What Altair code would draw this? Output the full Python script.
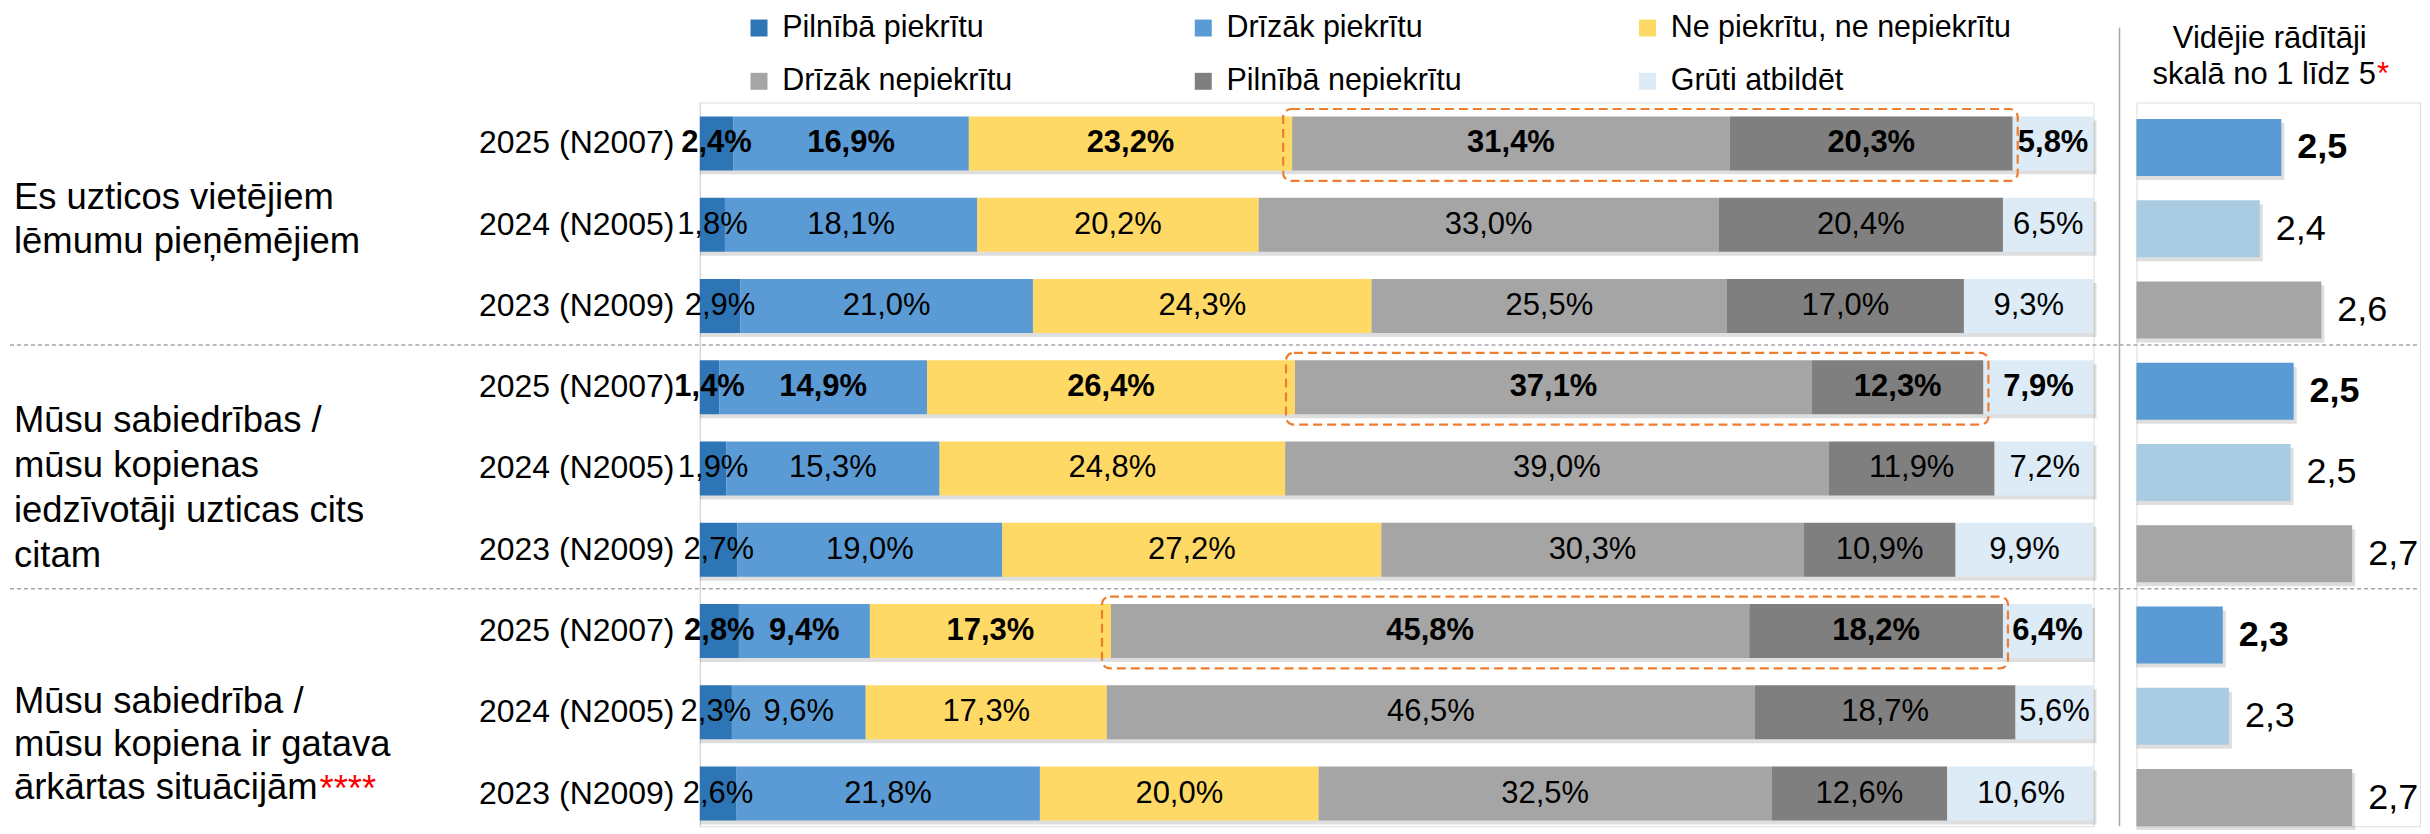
import altair as alt
import pandas as pd

FONT = "Liberation Sans"

# ---------------- data ----------------
categories = ["Pilnībā piekrītu", "Drīzāk piekrītu", "Ne piekrītu, ne nepiekrītu",
              "Drīzāk nepiekrītu", "Pilnībā nepiekrītu", "Grūti atbildēt"]
cat_colors = ["#2E75B6", "#5B9BD5", "#FFD966", "#A5A5A5", "#7F7F7F", "#DDEBF7"]

row_labels = ["2025 (N2007)", "2024 (N2005)", "2023 (N2009)"]
group_lines = [
    ["Es uzticos vietējiem", "lēmumu pieņēmējiem"],
    ["Mūsu sabiedrības /", "mūsu kopienas", "iedzīvotāji uzticas cits", "citam"],
    ["Mūsu sabiedrība /", "mūsu kopiena ir gatava", "ārkārtas situācijām"],
]
group_note = "****"

pilniba_piekritu = [2.4, 1.8, 2.9, 1.4, 1.9, 2.7, 2.8, 2.3, 2.6]
drizak_piekritu = [16.9, 18.1, 21.0, 14.9, 15.3, 19.0, 9.4, 9.6, 21.8]
ne_piekritu_ne_nepiekritu = [23.2, 20.2, 24.3, 26.4, 24.8, 27.2, 17.3, 17.3, 20.0]
drizak_nepiekritu = [31.4, 33.0, 25.5, 37.1, 39.0, 30.3, 45.8, 46.5, 32.5]
pilniba_nepiekritu = [20.3, 20.4, 17.0, 12.3, 11.9, 10.9, 18.2, 18.7, 12.6]
gruti_atbildet = [5.8, 6.5, 9.3, 7.9, 7.2, 9.9, 6.4, 5.6, 10.6]

mean_values = [2.47, 2.40, 2.60, 2.51, 2.50, 2.70, 2.28, 2.30, 2.70]
mean_labels = ["2,5", "2,4", "2,6", "2,5", "2,5", "2,7", "2,3", "2,3", "2,7"]
years = ["2025", "2024", "2023"]
year_colors = ["#5B9BD5", "#A9CCE3", "#A5A5A5"]

mean_title_1 = "Vidējie rādītāji"
mean_title_2 = "skalā no 1 līdz 5"
mean_title_star = "*"

# ---------------- tables ----------------
series = [pilniba_piekritu, drizak_piekritu, ne_piekritu_ne_nepiekritu,
          drizak_nepiekritu, pilniba_nepiekritu, gruti_atbildet]
n_rows = len(pilniba_piekritu)
keys = [f"{i}|{row_labels[i % 3]}" for i in range(n_rows)]

seg_rows, shadow_rows, box_rows = [], [], []
for i in range(n_rows):
    cum = 0.0
    for j, cat in enumerate(categories):
        v = series[j][i]
        seg_rows.append(dict(key=keys[i], cat=cat, start=cum, end=cum + v, mid=cum + v / 2,
                             label=f"{v:.1f}".replace(".", ",") + "%", bold=(i % 3 == 0)))
        cum += v
    shadow_rows.append(dict(key=keys[i], start=0.0, end=min(cum, 100.0)))
    if i % 3 == 0:
        s = series[0][i] + series[1][i] + series[2][i]
        box_rows.append(dict(key=keys[i], start=s, end=s + series[3][i] + series[4][i]))

seg_df = pd.DataFrame(seg_rows)
shadow_df = pd.DataFrame(shadow_rows)
box_df = pd.DataFrame(box_rows)
sep_df = pd.DataFrame(dict(key=[keys[2], keys[5]]))
mean_df = pd.DataFrame(dict(key=keys, year=[k.split("|")[1][:4] for k in keys],
                            mean=mean_values, label=mean_labels,
                            bold=[i % 3 == 0 for i in range(n_rows)]))

# ---------------- scales ----------------
W_MAIN, W_MEAN, H = 1396, 284, 725
yscale = alt.Scale(type="band", domain=keys, paddingInner=0.337, paddingOuter=0.122, align=0.705)
xscale = alt.Scale(domain=[0, 100], nice=False, zero=True, clamp=True)
mscale = alt.Scale(domain=[2, 2.92], nice=False, zero=False)
yaxis = alt.Axis(labelExpr="split(datum.value, '|')[1]", labelFontSize=32, labelFont=FONT,
                 labelColor="#000000", ticks=False, labelPadding=26, domainColor="#D9D9D9",
                 domainWidth=1.5, labelLimit=500, grid=False, title=None)
Ym = lambda **kw: alt.Y("key:N", scale=yscale, title=None, axis=yaxis, **kw)
Y = lambda **kw: alt.Y("key:N", scale=yscale, title=None, axis=None, **kw)
one = alt.InlineData(values=[{"a": 1}])

# ---------------- main panel ----------------
shadow = alt.Chart(shadow_df).mark_bar(color="#000000", opacity=0.13, yOffset=4, x2Offset=3).encode(
    x=alt.X("start:Q", scale=xscale, axis=None), x2="end:Q", y=Ym())

bars = alt.Chart(seg_df).mark_bar().encode(
    x=alt.X("start:Q", scale=xscale, axis=None),
    x2="end:Q",
    y=Ym(),
    color=alt.Color("cat:N", scale=alt.Scale(domain=categories, range=cat_colors),
                    legend=alt.Legend(title=None, orient="none", legendX=41, legendY=-93,
                                      direction="horizontal", columns=3, symbolType="square",
                                      symbolSize=289, symbolStrokeWidth=0, symbolOpacity=1,
                                      labelFontSize=30.5, labelFont=FONT, labelColor="#000000",
                                      labelOffset=8, columnPadding=65, rowPadding=22.5,
                                      padding=3, labelLimit=600, gridAlign="all")),
)

lab_reg = alt.Chart(seg_df).transform_filter("!datum.bold").mark_text(
    fontSize=31, font=FONT, color="#000000").encode(
    x=alt.X("mid:Q", scale=xscale, axis=None), y=Ym(), text="label:N")
lab_bold = alt.Chart(seg_df).transform_filter("datum.bold").mark_text(
    fontSize=31, font=FONT, color="#000000", fontWeight="bold").encode(
    x=alt.X("mid:Q", scale=xscale, axis=None), y=Ym(), text="label:N")

boxes = alt.Chart(box_df).mark_bar(size=72, yOffset=1.5, xOffset=-9, x2Offset=5, fill="transparent",
                                   stroke="#ED7D31", strokeWidth=2.2, strokeDash=[9, 5],
                                   cornerRadius=8).encode(
    x=alt.X("start:Q", scale=xscale, axis=None), x2="end:Q", y=Ym())

seps_main = alt.Chart(sep_df).mark_rule(color="#A6A6A6", strokeWidth=1.5, strokeDash=[4, 3],
                                        yOffset=12).encode(
    y=Ym(bandPosition=1), x=alt.value(-691), x2=alt.value(W_MAIN + 25))

group_layers = []
group_dy = [-26.5, -47.5, -10]
group_lh = [44, 45, 43]
for g, lines in enumerate(group_lines):
    group_layers.append(
        alt.Chart(alt.InlineData(values=[{"key": keys[g * 3 + 1], "lines": lines}])).mark_text(
            align="left", baseline="middle", fontSize=36.5, font=FONT, color="#000000",
            lineHeight=group_lh[g], dy=group_dy[g]).encode(
            x=alt.value(-687), y=Ym(), text="lines:N"))

stars = alt.Chart(alt.InlineData(values=[{"key": keys[8], "t": group_note}])).mark_text(
    align="left", baseline="middle", fontSize=36.5, font=FONT, color="#FF0000", dy=-4).encode(
    x=alt.value(-381), y=Ym(), text="t:N")

main = alt.layer(shadow, bars, lab_reg, lab_bold, boxes, seps_main, *group_layers, stars).properties(
    width=W_MAIN, height=H)

# ---------------- mean panel ----------------
m_shadow = alt.Chart(mean_df).mark_bar(size=57, yOffset=8, xOffset=3, color="#000000", opacity=0.13).encode(
    x=alt.X("mean:Q", scale=mscale, axis=None), x2=alt.datum(2), y=Y())
m_bars = alt.Chart(mean_df).mark_bar(size=57, yOffset=4).encode(
    x=alt.X("mean:Q", scale=mscale, axis=None), x2=alt.datum(2), y=Y(),
    color=alt.Color("year:N", scale=alt.Scale(domain=years, range=year_colors), legend=None))
m_lab_reg = alt.Chart(mean_df).transform_filter("!datum.bold").mark_text(
    align="left", baseline="middle", dx=16, dy=4, fontSize=36, font=FONT, color="#000000").encode(
    x=alt.X("mean:Q", scale=mscale, axis=None), y=Y(), text="label:N")
m_lab_bold = alt.Chart(mean_df).transform_filter("datum.bold").mark_text(
    align="left", baseline="middle", dx=16, dy=4, fontSize=36, font=FONT, color="#000000",
    fontWeight="bold").encode(
    x=alt.X("mean:Q", scale=mscale, axis=None), y=Y(), text="label:N")
m_seps = alt.Chart(sep_df).mark_rule(color="#A6A6A6", strokeWidth=1.5, strokeDash=[4, 3],
                                     yOffset=12).encode(
    y=Y(bandPosition=1), x=alt.value(-17), x2=alt.value(W_MEAN))
m_vline = alt.Chart(one).mark_rule(color="#A6A6A6", strokeWidth=1.5).encode(
    x=alt.value(-17), y=alt.value(-75), y2=alt.value(H))
m_t1 = alt.Chart(one).mark_text(align="center", baseline="middle", fontSize=31, font=FONT,
                                color="#000000").encode(
    x=alt.value(133.5), y=alt.value(-64), text=alt.value(mean_title_1))
m_t2 = alt.Chart(one).mark_text(align="right", baseline="middle", fontSize=31, font=FONT,
                                color="#000000").encode(
    x=alt.value(240), y=alt.value(-28), text=alt.value(mean_title_2))
m_t3 = alt.Chart(one).mark_text(align="left", baseline="middle", fontSize=31, font=FONT,
                                color="#FF0000").encode(
    x=alt.value(241), y=alt.value(-28), text=alt.value(mean_title_star))

mean_panel = alt.layer(m_shadow, m_bars, m_lab_reg, m_lab_bold, m_seps, m_vline,
                       m_t1, m_t2, m_t3).properties(width=W_MEAN, height=H)

chart = alt.hconcat(main, mean_panel, spacing=43, bounds="flush").resolve_scale(
    color="independent", x="independent", y="independent").properties(
    padding=0).configure_view(stroke=None).configure(font=FONT)

chart.save("out.html", embed_options={"renderer": "svg", "actions": False})
